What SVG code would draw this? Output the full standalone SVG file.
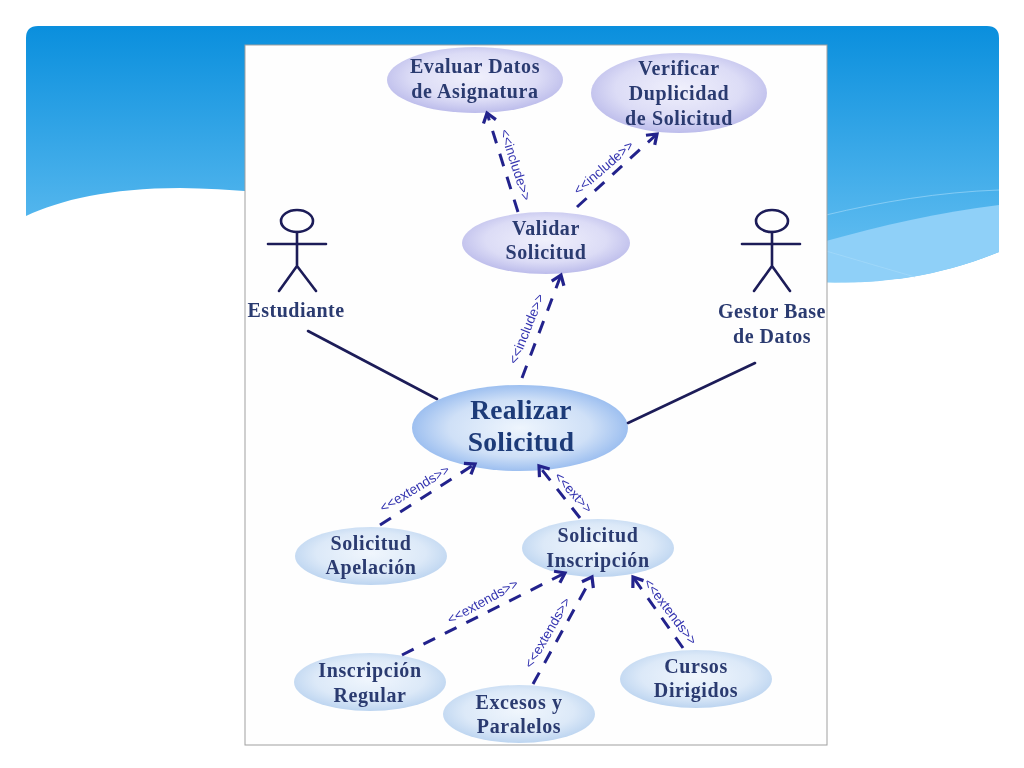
<svg xmlns="http://www.w3.org/2000/svg" width="1024" height="768" viewBox="0 0 1024 768">
<style>
.t{font-family:"Liberation Serif","Times New Roman",serif;font-weight:bold;fill:#2b3a70;text-anchor:middle;font-size:20px;letter-spacing:.6px}
.b{font-size:27.5px;fill:#1f3a78;letter-spacing:.3px}
.m{font-size:20px;letter-spacing:.5px}
.l{font-family:"Liberation Sans",Arial,sans-serif;font-size:13.5px;fill:#3535b0;text-anchor:middle}
.d{fill:none;stroke:#23238c;stroke-width:3;stroke-dasharray:13 11;marker-end:url(#a)}
.s{fill:none;stroke:#1c1c58;stroke-width:2.6;stroke-linecap:round}
.v{fill:url(#gv)}
.c{fill:url(#gc)}
</style>
<defs>
<linearGradient id="bg" x1="0" y1="0" x2="0" y2="1"><stop offset="0" stop-color="#0a8fdd"/><stop offset="1" stop-color="#6cc3f3"/></linearGradient>
<radialGradient id="gv" cx=".5" cy=".45" r=".6"><stop offset="0" stop-color="#f0f0fc"/><stop offset=".6" stop-color="#dcdcf6"/><stop offset="1" stop-color="#b4b4e8"/></radialGradient>
<radialGradient id="gc" cx=".5" cy=".45" r=".6"><stop offset="0" stop-color="#f0f6fd"/><stop offset=".6" stop-color="#dce9f8"/><stop offset="1" stop-color="#b4cfee"/></radialGradient>
<radialGradient id="gr" cx=".5" cy=".5" r=".55"><stop offset="0" stop-color="#eef5fd"/><stop offset=".6" stop-color="#cfe0f7"/><stop offset="1" stop-color="#8fb6ee"/></radialGradient>
<marker id="a" markerUnits="userSpaceOnUse" markerWidth="20" markerHeight="20" refX="14" refY="10" orient="auto"><path d="M5 3.5L14 10L5 16.5" fill="none" stroke="#23238c" stroke-width="3.2"/></marker>
<filter id="soft" x="-5%" y="-5%" width="110%" height="110%"><feGaussianBlur stdDeviation="0.5"/></filter>
<clipPath id="img"><rect x="245" y="45" width="582" height="700"/></clipPath>
</defs>
<rect width="1024" height="768" fill="#fff"/>
<g id="slide-band">
<path d="M26 216V38Q26 26 38 26H987Q999 26 999 38V252C930 280 870 284 810 282C620 260 400 192 180 188C110 188 60 200 26 216Z" fill="url(#bg)"/>
<path d="M826 241C880 226 940 212 999 205V252C930 280 870 284 826 282Z" fill="#8fd0f8"/>
<path d="M826 215C880 202 940 192 999 190M826 251L915 277" fill="none" stroke="#a9dcfa" stroke-width="1" opacity=".6"/>
</g>
<rect id="picture" x="245" y="45" width="582" height="700" fill="#fefefe" stroke="#a0a0a0" stroke-width="1"/>
<g clip-path="url(#img)" filter="url(#soft)">
<g id="evaluar"><ellipse class="v" cx="475" cy="80" rx="88" ry="33"/><text class="t" x="475" y="73">Evaluar Datos</text><text class="t" x="475" y="98">de Asignatura</text></g>
<g id="verificar"><ellipse class="v" cx="679" cy="93" rx="88" ry="40"/><text class="t" x="679" y="75">Verificar</text><text class="t" x="679" y="100">Duplicidad</text><text class="t" x="679" y="125">de Solicitud</text></g>
<g id="validar"><ellipse class="v" cx="546" cy="243" rx="84" ry="31"/><text class="t" x="546" y="235">Validar</text><text class="t" x="546" y="259">Solicitud</text></g>
<g id="realizar"><ellipse fill="url(#gr)" cx="520" cy="428" rx="108" ry="43"/><text class="t b" x="521" y="419">Realizar</text><text class="t b" x="521" y="451">Solicitud</text></g>
<g id="apelacion"><ellipse class="c" cx="371" cy="556" rx="76" ry="29"/><text class="t" x="371" y="550">Solicitud</text><text class="t" x="371" y="574">Apelación</text></g>
<g id="inscripcion"><ellipse class="c" cx="598" cy="548" rx="76" ry="29"/><text class="t" x="598" y="542">Solicitud</text><text class="t" x="598" y="567">Inscripción</text></g>
<g id="regular"><ellipse class="c" cx="370" cy="682" rx="76" ry="29"/><text class="t" x="370" y="677">Inscripción</text><text class="t" x="370" y="702">Regular</text></g>
<g id="excesos"><ellipse class="c" cx="519" cy="714" rx="76" ry="29"/><text class="t" x="519" y="709">Excesos y</text><text class="t" x="519" y="733">Paralelos</text></g>
<g id="cursos"><ellipse class="c" cx="696" cy="679" rx="76" ry="29"/><text class="t" x="696" y="673">Cursos</text><text class="t" x="696" y="697">Dirigidos</text></g>
<g id="estudiante"><ellipse class="s" cx="297" cy="221" rx="16" ry="11"/><path class="s" d="M297 232V266M268 244H326M297 266L279 291M297 266L316 291"/><text class="t m" x="296" y="317">Estudiante</text></g>
<g id="gestor"><ellipse class="s" cx="772" cy="221" rx="16" ry="11"/><path class="s" d="M772 232V266M742 244H800M772 266L754 291M772 266L790 291"/><text class="t m" x="772" y="318">Gestor Base</text><text class="t m" x="772" y="343">de Datos</text></g>
<g id="connectors">
<path class="s" d="M308 331L437 399M628 423L755 363"/>
<path class="d" d="M518 212L487 113"/>
<path class="d" d="M577 207L657 134"/>
<path class="d" d="M522 378L561 275"/>
<path class="d" d="M380 525L475 464"/>
<path class="d" d="M580 518L539 466"/>
<path class="d" d="M402 655L565 573"/>
<path class="d" d="M533 684L592 577"/>
<path class="d" d="M683 648L633 577"/>
<text class="l" transform="translate(515 165) rotate(72)" y="4">&lt;&lt;include&gt;&gt;</text>
<text class="l" transform="translate(604 168) rotate(-41)" y="4">&lt;&lt;include&gt;&gt;</text>
<text class="l" transform="translate(527 329) rotate(-68)" y="4">&lt;&lt;include&gt;&gt;</text>
<text class="l" transform="translate(415 489) rotate(-31)" y="4">&lt;&lt;extends&gt;&gt;</text>
<text class="l" transform="translate(573 493) rotate(48)" y="4">&lt;&lt;ext&gt;&gt;</text>
<text class="l" transform="translate(483 602) rotate(-29)" y="4">&lt;&lt;extends&gt;&gt;</text>
<text class="l" transform="translate(548 633) rotate(-60)" y="4">&lt;&lt;extends&gt;&gt;</text>
<text class="l" transform="translate(670 612) rotate(53)" y="4">&lt;&lt;extends&gt;&gt;</text>
</g>
</g>
</svg>
